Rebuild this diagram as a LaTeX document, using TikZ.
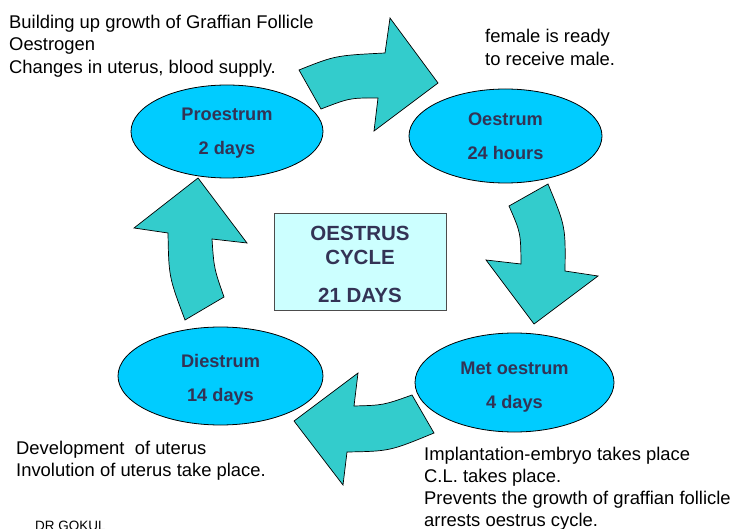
\documentclass[tikz,border=0pt]{standalone}
\usepackage{fontspec}
\setmainfont{Liberation Sans}
\usetikzlibrary{shapes.geometric}
\definecolor{ellfill}{HTML}{00CCFF}
\definecolor{arrfill}{HTML}{33CCCC}
\definecolor{boxfill}{HTML}{CCFFFF}
\definecolor{labtext}{HTML}{333355}
\newcommand{\lift}[1]{\rule{0pt}{#1}}
\begin{document}
\begin{tikzpicture}[x=1pt,y=-1pt,
  phase/.style={ellipse, draw=black, line width=0.8pt, fill=ellfill, inner sep=0pt, align=center, text=labtext, font=\fontsize{18.2}{34}\selectfont\bfseries},
  blockarrow/.style={draw=black, line width=0.7pt, fill=arrfill, line join=miter},
  note/.style={anchor=north west, inner sep=0pt, align=left, font=\fontsize{18.4}{22.8}\selectfont},
  cyclebox/.style={draw=black!70, line width=1pt, fill=boxfill, inner sep=0pt, align=center, text=labtext, font=\fontsize{20.5}{24}\selectfont\bfseries}]
\useasboundingbox (0,0) rectangle (736,529);
\fill[white] (0,0) rectangle (736,529);

% phases
\node[phase, minimum width=192pt, minimum height=93pt] (pro) at (227,131.5) {\lift{15.5pt}Proestrum\\2 days};
\node[phase, minimum width=193pt, minimum height=94pt] (oes) at (505.5,136) {Oestrum\\24 hours};
\node[phase, minimum width=199pt, minimum height=99pt] (met) at (514.5,382.5) {\lift{21pt}Met oestrum\\4 days};
\node[phase, minimum width=205pt, minimum height=98pt] (die) at (220.5,376) {\lift{21pt}Diestrum\\14 days};

% centre box
\node[cyclebox, minimum width=172pt, minimum height=96pt] (cyc) at (360,262) {\lift{19pt}OESTRUS\\CYCLE\\[14pt]21 DAYS};

% block arrows
\draw[blockarrow] (299,70) .. controls (335.3,55.5) .. (385,53) -- (390,18) -- (438,83) -- (374,131) -- (378,98) .. controls (349.8,97.9) .. (321,109) -- cycle;
\draw[blockarrow] (509,206) -- (548,184) .. controls (565.6,226.4) .. (565,271) -- (598,276) -- (534,324) -- (486,260) -- (521,264) .. controls (520.7,232.7) .. (509,206) -- cycle;
\draw[blockarrow] (412,395) -- (434,433) .. controls (389.8,451.2) .. (347,452) -- (343,485) -- (294,421) -- (358,373) -- (354,406) .. controls (383.4,405.2) .. (412,395) -- cycle;
\draw[blockarrow] (185,320) -- (224,297) .. controls (214,268.4) .. (212,239) -- (247,243) -- (198,178) -- (134,228) -- (168,233) .. controls (168.8,276.8) .. (185,320) -- cycle;

% notes
\node[note] (n1) at (9,14.5) {Building up growth of Graffian Follicle\\Oestrogen\\Changes in uterus, blood supply.};
\node[note] (n2) at (485,29) {female is ready\\to receive male.};
\node[note, font=\fontsize{18.4}{22}\selectfont] (n3) at (16,440.7) {Development\ \ of uterus\\Involution of uterus take place.};
\node[note, font=\fontsize{18.4}{22}\selectfont] (n4) at (424,446.7) {Implantation-embryo takes place\\C.L. takes place.\\Prevents the growth of graffian follicle\\arrests oestrus cycle.};
\node[anchor=base west, inner sep=0pt, font=\fontsize{13.5}{16}\selectfont] (sig) at (35,530) {DR GOKUL};
\end{tikzpicture}
\end{document}
